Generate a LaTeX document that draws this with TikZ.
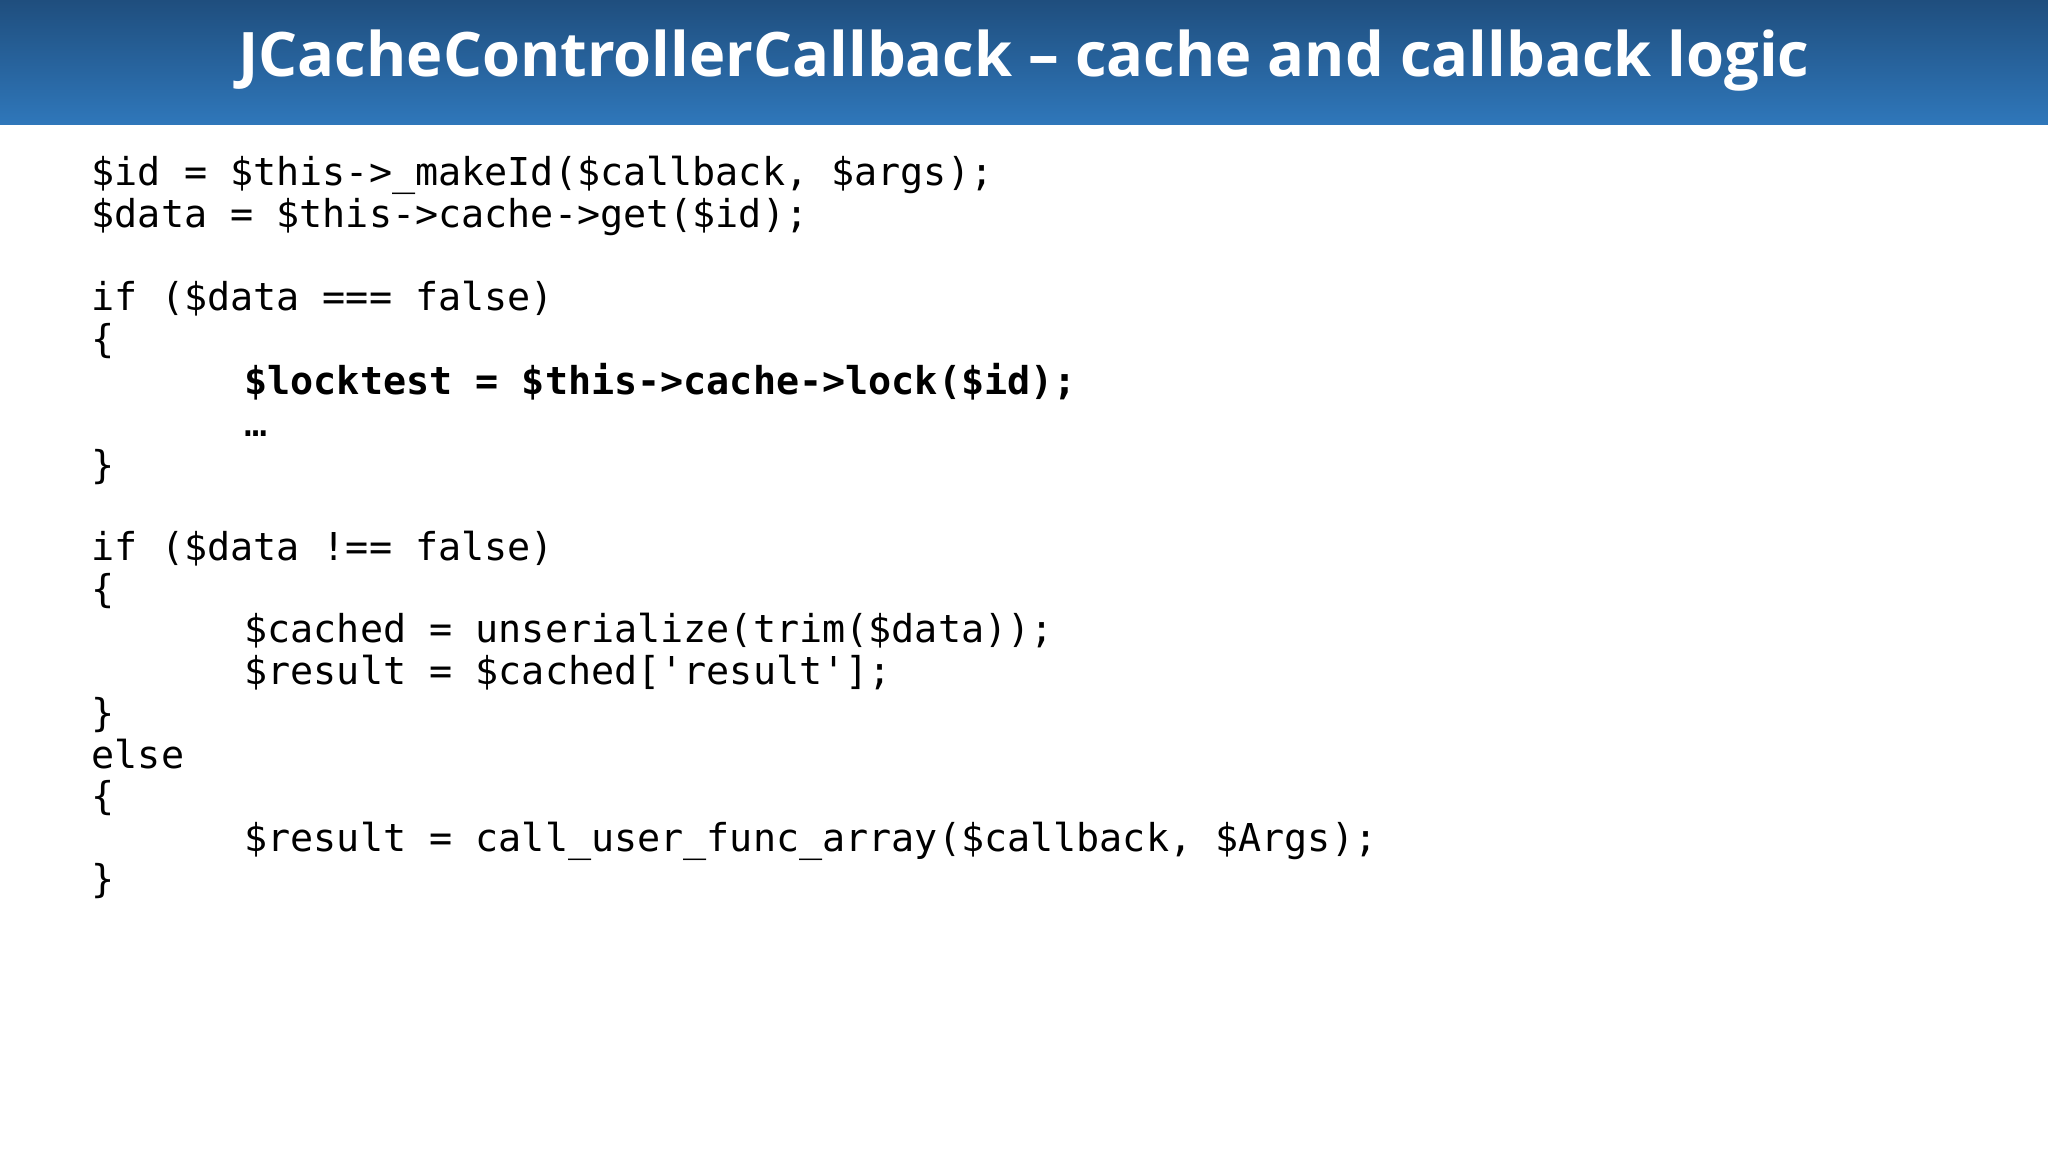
\documentclass[tikz,border=0pt]{standalone}
\usepackage{fontspec}
\setmainfont{Open Sans}
\newfontfamily\codefont{DejaVu Sans Mono}
\definecolor{hdtop}{HTML}{1F4E7E}
\definecolor{hdbot}{HTML}{2F77BA}
\begin{document}
\begin{tikzpicture}[x=1pt,y=1pt,
  code/.style={anchor=base west,inner sep=0pt,font=\codefont\fontsize{29.4}{32}\selectfont,text=black}]
\useasboundingbox (0,0) rectangle (1568,-882);
\fill[white] (0,0) rectangle (1568,-882);
\shade[top color=hdtop,bottom color=hdbot] (0,0) rectangle (1568,-95);
\node[text=white,font=\bfseries\fontsize{47}{52}\selectfont] (title) at (784,-46) {JCacheControllerCallback – cache and callback logic};
\node[code] (l1) at (70,-142) {\$id = \$this->\_makeId(\$callback, \$args);};
\node[code] (l2) at (70,-174) {\$data = \$this->cache->get(\$id);};
\node[code] (l3) at (70,-238) {if (\$data === false)};
\node[code] (l4) at (70,-270) {\{};
\node[code,font=\codefont\bfseries\fontsize{29.4}{32}\selectfont] (l5) at (187,-302) {\$locktest = \$this->cache->lock(\$id);};
\node[code] (l6) at (187,-334) {…};
\node[code] (l7) at (70,-366) {\}};
\node[code] (l8) at (70,-429) {if (\$data !== false)};
\node[code] (l9) at (70,-461) {\{};
\node[code] (l10) at (187,-492) {\$cached = unserialize(trim(\$data));};
\node[code] (l11) at (187,-524) {\$result = \$cached['result'];};
\node[code] (l12) at (70,-556) {\}};
\node[code] (l13) at (70,-588) {else};
\node[code] (l14) at (70,-620) {\{};
\node[code] (l15) at (187,-652) {\$result = call\_user\_func\_array(\$callback, \$Args);};
\node[code] (l16) at (70,-683) {\}};
\end{tikzpicture}
\end{document}
